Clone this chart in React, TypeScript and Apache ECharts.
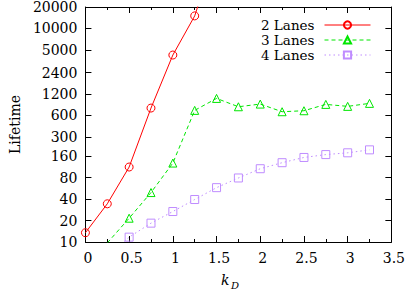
import React, { useEffect, useRef } from "react";
import * as echarts from "echarts";

const kD2 = [0, 0.25, 0.5, 0.75, 1.0, 1.25, 1.5];
const lanes2 = [13.5, 34.4, 113, 761, 4230, 15000, 130000];
const kD34 = [0.25, 0.5, 0.75, 1.0, 1.25, 1.5, 1.75, 2.0, 2.25, 2.5, 2.75, 3.0, 3.25];
const lanes3 = [9.7, 21.6, 49.5, 128.5, 706, 1040, 794, 866, 676, 698, 857, 804, 886];
const lanes4 = [6.3, 11.7, 18.4, 26.8, 39.5, 58, 79.3, 107, 130, 154, 169, 179, 197];
const yTicks = [10, 20, 40, 80, 160, 300, 600, 1200, 2400, 5000, 10000, 20000];
const seriesNames = ["2 Lanes", "3 Lanes", "4 Lanes"];

const FONT = "'DejaVu Serif', 'Liberation Serif', serif";
const logT = yTicks.map((v) => Math.log10(v));

function pts(ks: number[], vs: number[]) {
  return ks.map((k, i) => [k, Math.log10(vs[i])]);
}

export default function App() {
  const ref = useRef<HTMLDivElement>(null);
  useEffect(() => {
    if (!ref.current) return;
    const chart = echarts.init(ref.current, undefined, { renderer: "svg" });
    const yFmt = (v: number) => String(Math.round(Math.pow(10, v)));
    const xBase = {
      type: "value" as const,
      min: 0,
      max: 3.5,
      interval: 0.5,
      axisLine: { show: true, onZero: false, lineStyle: { color: "#000", width: 1 } },
      axisTick: { show: true, inside: true, length: 6, lineStyle: { color: "#000" } },
      minorTick: { show: true, splitNumber: 2, length: 3, lineStyle: { color: "#000" } },
      splitLine: { show: false },
    };
    const yBase = {
      type: "value" as const,
      min: Math.log10(10),
      max: Math.log10(20000),
      axisLine: { show: true, onZero: false, lineStyle: { color: "#000", width: 1 } },
      axisTick: { show: true, inside: true, length: 6, customValues: logT, lineStyle: { color: "#000" } },
      splitLine: { show: false },
    };
    const mk = (color: string) => ({
      color: "transparent",
      borderColor: color,
      borderWidth: 1,
    });
    chart.setOption({
      animation: false,
      grid: { left: 69, right: 12, top: 5, bottom: 47 },
      xAxis: [
        {
          ...xBase,
          position: "bottom",
          axisLabel: {
            show: true,
            margin: 9,
            fontFamily: FONT,
            fontSize: 14,
            color: "#000",
            padding: [0, 0, 0, 5],
          },
        },
        { ...xBase, position: "top", axisLabel: { show: false } },
      ],
      yAxis: [
        {
          ...yBase,
          position: "left",
          name: "Lifetime",
          nameLocation: "middle",
          nameGap: 56,
          nameRotate: 90,
          nameTextStyle: { fontFamily: FONT, fontSize: 14, color: "#000" },
          axisLabel: {
            show: true,
            margin: 8,
            customValues: logT,
            formatter: yFmt,
            fontFamily: FONT,
            fontSize: 14,
            color: "#000",
          },
        },
        { ...yBase, position: "right", axisLabel: { show: false } },
      ],
      legend: {
        data: seriesNames,
        orient: "vertical",
        right: 32,
        top: 13,
        align: "right",
        itemWidth: 46,
        itemHeight: 9,
        itemGap: 1,
        lineStyle: { width: 1 },
        textStyle: {
          fontFamily: FONT,
          fontSize: 13.5,
          color: "#000",
          padding: [0, 5, 0, 0],
        },
      },
      graphic: [
        {
          type: "text",
          left: 221,
          top: 273,
          style: { text: "k", fontFamily: FONT, fontStyle: "italic", fontSize: 14, fill: "#000" },
        },
        {
          type: "text",
          left: 231,
          top: 280,
          style: { text: "D", fontFamily: FONT, fontStyle: "italic", fontSize: 10, fill: "#000" },
        },
      ],
      series: [
        {
          name: seriesNames[0],
          type: "line",
          data: pts(kD2, lanes2),
          clip: true,
          color: "#ff0000",
          symbol: "circle",
          symbolSize: 8,
          itemStyle: mk("#ff0000"),
          lineStyle: { color: "#ff0000", width: 1, type: "solid" },
        },
        {
          name: seriesNames[1],
          type: "line",
          data: pts(kD34, lanes3),
          clip: true,
          color: "#00e600",
          symbol: "triangle",
          symbolSize: 8,
          itemStyle: mk("#00e600"),
          lineStyle: { color: "#00e600", width: 1, type: [4, 3] },
        },
        {
          name: seriesNames[2],
          type: "line",
          data: pts(kD34, lanes4),
          clip: true,
          color: "#bf8cff",
          symbol: "rect",
          symbolSize: 8,
          itemStyle: mk("#bf8cff"),
          lineStyle: { color: "#bf8cff", width: 1, type: [1.5, 3] },
        },
      ],
    });
    return () => chart.dispose();
  }, []);
  return (
    <div
      ref={ref}
      style={{ position: "fixed", left: 0, top: 0, width: 408, height: 289, background: "#fff" }}
    />
  );
}
